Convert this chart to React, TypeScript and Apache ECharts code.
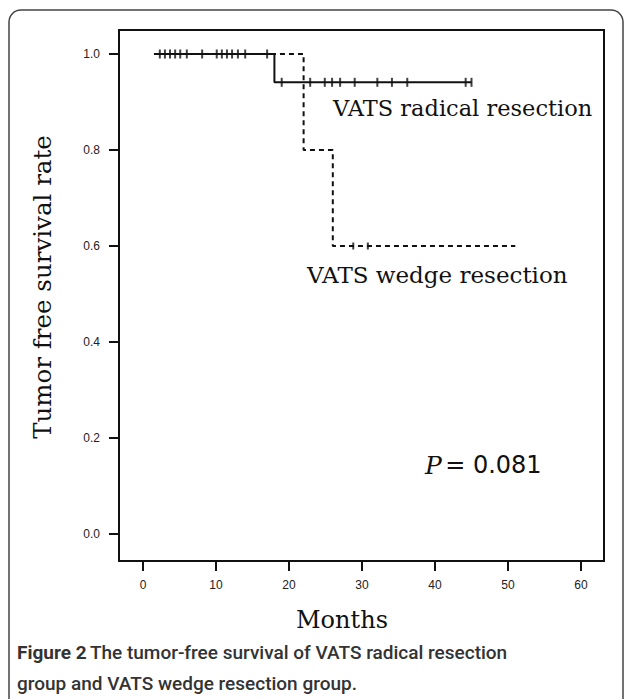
import React, { useEffect, useRef } from "react";
import * as echarts from "echarts";

// Axis ticks
const xTickValues = [0, 10, 20, 30, 40, 50, 60];
const yTickValues = [0, 0.2, 0.4, 0.6, 0.8, 1.0];

// Kaplan-Meier step curves (time in months, survival rate)
const radicalTimes = [1.5, 18, 45];
const radicalSurv = [1.0, 0.941, 0.941];
const wedgeTimes = [1.5, 22, 26, 51];
const wedgeSurv = [1.0, 0.8, 0.6, 0.6];

// Censored observations
const radicalCensorTimesA = [2.3, 3.0, 3.7, 4.4, 5.1, 6.0, 8.1, 10.1, 10.8, 11.5, 12.2, 13.0, 14.0, 17.0];
const radicalCensorSurvA = 1.0;
const radicalCensorTimesB = [19.0, 22.9, 24.9, 25.9, 27.0, 29.0, 32.1, 34.1, 36.2, 44.2, 45.0];
const radicalCensorSurvB = 0.941;
const wedgeCensorTimes = [28.8, 30.8];
const wedgeCensorSurv = 0.6;

const pValue = "0.081";

const X_MIN = -3.29;
const X_MAX = 63.15;
const Y_MIN = -0.05625;
const Y_MAX = 1.05;

export default function App() {
  const ref = useRef<HTMLDivElement>(null);
  useEffect(() => {
    if (!ref.current) return;
    const chart = echarts.init(ref.current, null, { renderer: "svg" });
    const zip = (xs: number[], ys: number[]) => xs.map((x, i) => [x, ys[i]]);
    const censor = (xs: number[], y: number) => xs.map((x) => [x, y]);
    const serifFont = "DejaVu Serif";
    const baseGraphic: any[] = [
      {
        type: "rect",
        shape: { x: 9, y: 10, width: 614, height: 720, r: 12 },
        style: { fill: "none", stroke: "#444", lineWidth: 1.5 },
        silent: true,
      },
      {
        type: "text",
        x: 333,
        y: 108,
        style: {
          text: "VATS radical resection",
          font: `22.5px "${serifFont}"`,
          fill: "#111",
          textVerticalAlign: "middle",
        },
      },
      {
        type: "text",
        x: 307,
        y: 275,
        style: {
          text: "VATS wedge resection",
          font: `23px "${serifFont}"`,
          fill: "#111",
          textVerticalAlign: "middle",
        },
      },
      {
        type: "text",
        x: 425,
        y: 465,
        style: {
          text: "{p|P} {v|= " + pValue + "}",
          textVerticalAlign: "middle",
          rich: {
            p: { font: `italic 25px "${serifFont}"`, fill: "#111" },
            v: { font: `24px "DejaVu Sans"`, fill: "#111" },
          },
        },
      },
      {
        type: "text",
        x: 342,
        y: 620,
        style: {
          text: "Months",
          font: `24px "${serifFont}"`,
          fill: "#111",
          textAlign: "center",
          textVerticalAlign: "middle",
        },
      },
      {
        type: "text",
        x: 42,
        y: 287,
        rotation: Math.PI / 2,
        style: {
          text: "Tumor free survival rate",
          font: `24.5px "${serifFont}"`,
          fill: "#111",
          textAlign: "center",
          textVerticalAlign: "middle",
        },
      },
      {
        type: "text",
        x: 17,
        y: 652,
        style: {
          text: "{b|Figure 2} {n|The tumor-free survival of VATS radical resection}",
          textVerticalAlign: "middle",
          rich: {
            b: { fontFamily: "Roboto", fontWeight: "bold", fontSize: 19, fill: "#333" },
            n: { fontFamily: "Roboto", fontWeight: 500, fontSize: 19, fill: "#333" },
          },
        },
      },
      {
        type: "text",
        x: 17,
        y: 683,
        style: {
          text: "group and VATS wedge resection group.",
          font: `500 19px "Roboto"`,
          fill: "#333",
          textVerticalAlign: "middle",
        },
      },
    ];
    chart.setOption({
      animation: false,
      backgroundColor: "#ffffff",
      grid: {
        left: 119,
        right: 21,
        top: 30,
        bottom: 138,
        show: true,
        borderColor: "#111",
        borderWidth: 2,
        backgroundColor: "transparent",
      },
      xAxis: {
        type: "value",
        min: X_MIN,
        max: X_MAX,
        axisLine: { show: true, onZero: false, lineStyle: { color: "#111", width: 2 } },
        axisTick: {
          show: true,
          inside: false,
          length: 10,
          customValues: xTickValues,
          lineStyle: { color: "#111", width: 2 },
        },
        axisLabel: {
          customValues: xTickValues,
          color: "#222",
          fontFamily: "Liberation Sans",
          fontSize: 12,
          margin: 18,
        },
        splitLine: { show: false },
      },
      yAxis: {
        type: "value",
        min: Y_MIN,
        max: Y_MAX,
        axisLine: { show: true, onZero: false, lineStyle: { color: "#111", width: 2 } },
        axisTick: {
          show: true,
          inside: false,
          length: 10,
          customValues: yTickValues,
          lineStyle: { color: "#111", width: 2 },
        },
        axisLabel: {
          customValues: yTickValues,
          color: "#222",
          fontFamily: "Liberation Sans",
          fontSize: 12,
          margin: 19,
          formatter: (v: number) => v.toFixed(1),
        },
        splitLine: { show: false },
      },
      graphic: baseGraphic,
      series: [
        {
          name: "VATS wedge resection",
          type: "line",
          step: "end",
          data: zip(wedgeTimes, wedgeSurv),
          showSymbol: false,
          z: 2,
          lineStyle: { color: "#111", width: 2, type: [5, 4] },
        },
        {
          name: "VATS radical resection",
          type: "line",
          step: "end",
          data: zip(radicalTimes, radicalSurv),
          showSymbol: false,
          z: 3,
          lineStyle: { color: "#111", width: 2 },
        },
        {
          name: "Radical censored",
          type: "scatter",
          data: censor(radicalCensorTimesA, radicalCensorSurvA).concat(
            censor(radicalCensorTimesB, radicalCensorSurvB)
          ),
          symbol: "rect",
          symbolSize: [2, 9],
          z: 4,
          itemStyle: { color: "#111" },
        },
        {
          name: "Wedge censored",
          type: "scatter",
          data: censor(wedgeCensorTimes, wedgeCensorSurv),
          symbol: "rect",
          symbolSize: [2, 7],
          z: 4,
          itemStyle: { color: "#111" },
        },
      ],
    });

    // Outward tick marks positioned through the chart's own scales
    const tickGraphic: any[] = [];
    xTickValues.forEach((v) => {
      const p = chart.convertToPixel({ gridIndex: 0 }, [v, Y_MIN]) as number[];
      if (p && isFinite(p[0]) && isFinite(p[1])) {
        tickGraphic.push({
          type: "line",
          silent: true,
          shape: { x1: p[0], y1: p[1], x2: p[0], y2: p[1] + 10 },
          style: { stroke: "#111", lineWidth: 2 },
        });
      }
    });
    yTickValues.forEach((v) => {
      const p = chart.convertToPixel({ gridIndex: 0 }, [X_MIN, v]) as number[];
      if (p && isFinite(p[0]) && isFinite(p[1])) {
        tickGraphic.push({
          type: "line",
          silent: true,
          shape: { x1: p[0] - 10, y1: p[1], x2: p[0], y2: p[1] },
          style: { stroke: "#111", lineWidth: 2 },
        });
      }
    });
    chart.setOption({ graphic: baseGraphic.concat(tickGraphic) });

    return () => chart.dispose();
  }, []);
  return (
    <div
      ref={ref}
      style={{ position: "fixed", left: 0, top: 0, width: 625, height: 699 }}
    />
  );
}
